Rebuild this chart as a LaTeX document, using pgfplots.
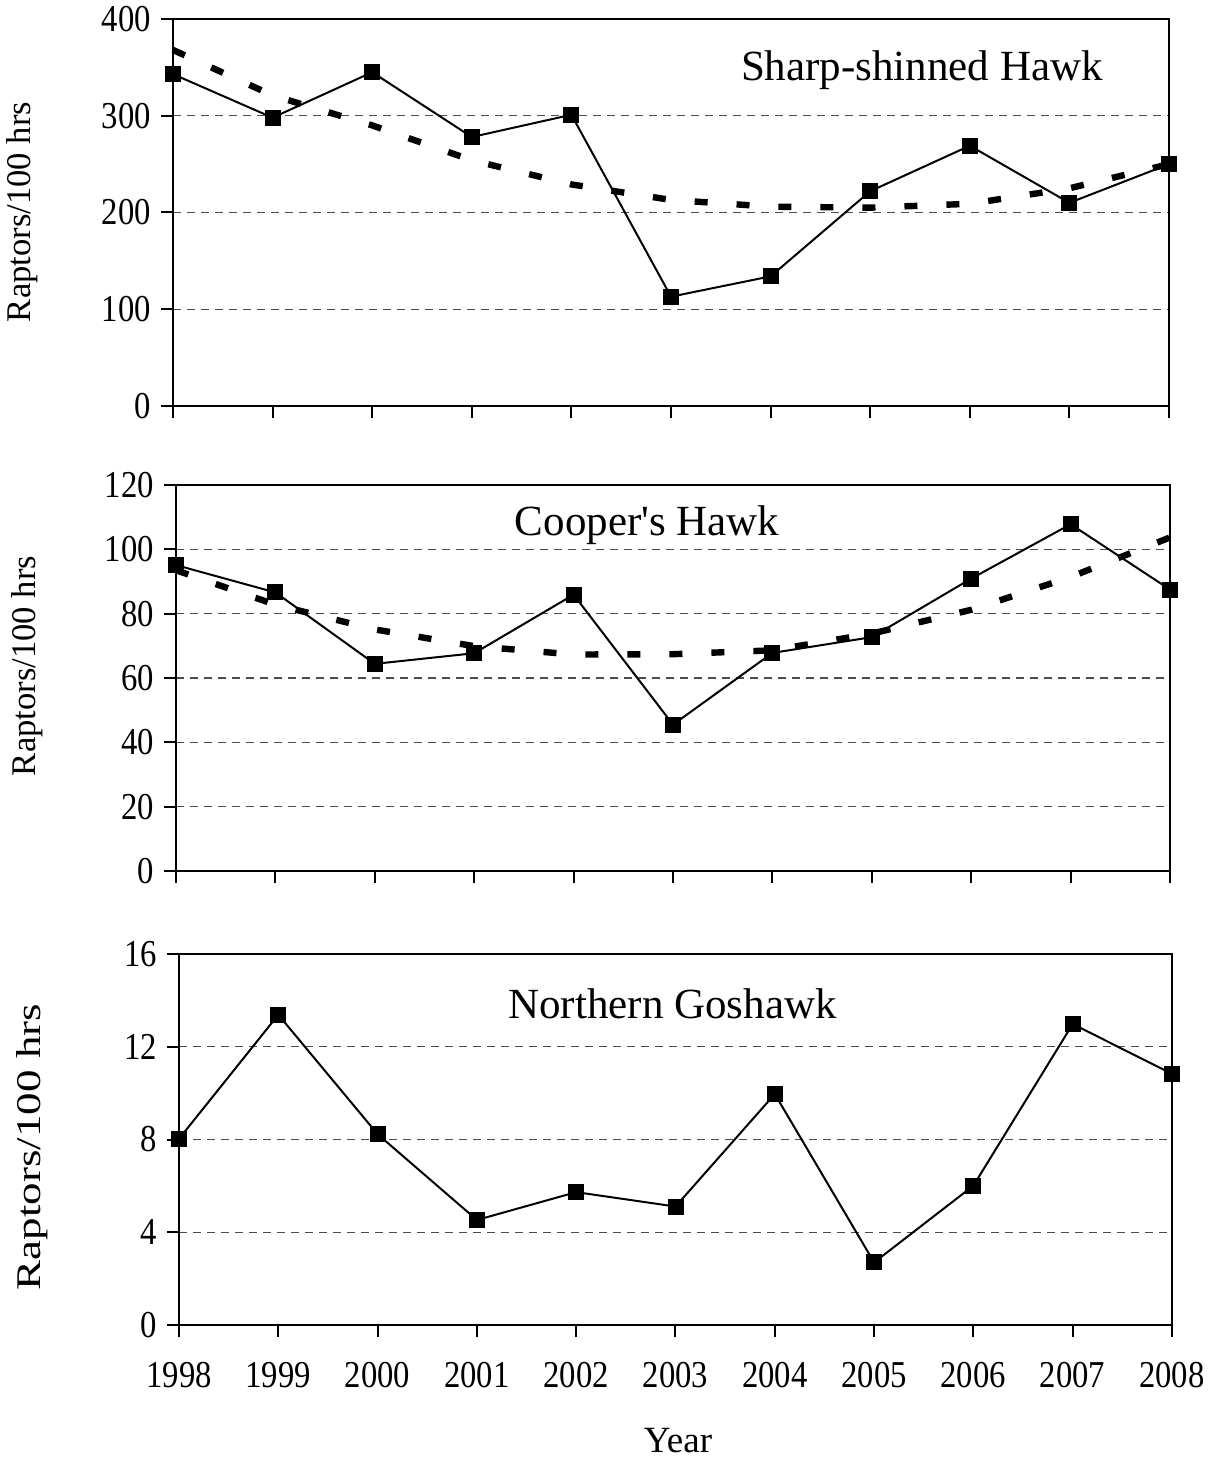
\documentclass[border=0pt]{standalone}
\usepackage{fontspec}
\setmainfont{Liberation Serif}
\newfontfamily\tickfont[FakeStretch=0.86]{Liberation Serif}
\newfontfamily\plainfont[Ligatures=TeXOff]{Liberation Serif}
\usepackage{graphicx}
\usepackage{pgfplots}
\pgfplotsset{compat=1.18}
\begin{document}
\begin{tikzpicture}
\path[use as bounding box] (0pt,0pt) rectangle (610.5pt,-730pt);
\pgfplotsset{
  panel/.style={
    scale only axis,
    anchor=north west,
    xmin=1998, xmax=2008,
    xtick={1998,...,2008},
    axis line style={line width=1.3pt},
    every tick/.style={line width=1pt, black},
    tick align=outside,
    major tick length=6pt,
    xtick pos=bottom, ytick pos=left,
    ymajorgrids,
    major grid style={dash pattern=on 4pt off 3pt, line width=0.55pt, black!70},
    tick label style={font=\tickfont\fontsize{19}{22}\selectfont},
    /pgf/number format/assume math mode=true,
    /pgf/number format/1000 sep={},
    yticklabel style={xshift=-1.5pt},
    xticklabel style={yshift=-9pt},
    clip=false,
  },
  data/.style={black, line width=1pt, mark=square*, mark size=3.5pt, mark options={solid}},
  trend/.style={black, line width=3.2pt, dash pattern=on 6.5pt off 14.5pt, no marks},
}
% Panel 1
\begin{axis}[panel, at={(86.5pt,-9.5pt)}, width=498pt, height=193.5pt,
  ymin=0, ymax=400, ytick={0,100,...,400}, xticklabels={}]
\addplot[data] coordinates {(1998,343) (1999,298) (2000,345) (2001,278) (2002,301) (2003,113) (2004,134) (2005,222) (2006,269) (2007,210) (2008,250)};
\addplot[trend] coordinates {(1998,368) (1999,321) (2000,290) (2001,254) (2002,229) (2003,213) (2004,206) (2005,205) (2006,209) (2007,225) (2008,250)};
\node[anchor=base, font=\fontsize{21.5}{25}\selectfont] at (axis cs:2005.52,336.8) {Sharp-shinned Hawk};
\end{axis}
% Panel 2
\begin{axis}[panel, at={(88pt,-242.5pt)}, width=497pt, height=193pt,
  ymin=0, ymax=120, ytick={0,20,...,120}, xticklabels={}]
\addplot[data] coordinates {(1998,95.1) (1999,86.6) (2000,64.4) (2001,67.7) (2002,85.9) (2003,45.5) (2004,67.8) (2005,72.7) (2006,90.9) (2007,107.8) (2008,87.5)};
\addplot[trend] coordinates {(1998,93.5) (1999,82.8) (2000,75.1) (2001,69.9) (2002,67.3) (2003,67.4) (2004,68.6) (2005,73.8) (2006,81.2) (2007,91.4) (2008,103.7)};
\node[anchor=base, font=\plainfont\fontsize{21.5}{25}\selectfont] at (axis cs:2002.74,104.2) {Cooper's Hawk};
\end{axis}
% Panel 3
\begin{axis}[panel, at={(89.5pt,-477pt)}, width=496.5pt, height=185.5pt,
  ymin=0, ymax=16, ytick={0,4,...,16}]
\addplot[data] coordinates {(1998,8.03) (1999,13.38) (2000,8.23) (2001,4.53) (2002,5.73) (2003,5.11) (2004,9.96) (2005,2.70) (2006,6.01) (2007,12.98) (2008,10.83)};
\node[anchor=base, font=\fontsize{21.5}{25}\selectfont] at (axis cs:2002.97,13.2) {Northern Goshawk};
\end{axis}
% Y labels
\node[rotate=90, font=\fontsize{17.3}{20}\selectfont] at (11pt,-106pt) {Raptors/100 hrs};
\node[rotate=90, font=\fontsize{17.3}{20}\selectfont] at (13.5pt,-333pt) {Raptors/100 hrs};
\node[rotate=90, font=\fontsize{17.3}{20}\selectfont] at (16pt,-573.5pt) {\scalebox{1.3}[1]{Raptors/100 hrs}};
% X label
\node[font=\fontsize{18.5}{22}\selectfont] at (339pt,-720.2pt) {Year};
\end{tikzpicture}
\end{document}
